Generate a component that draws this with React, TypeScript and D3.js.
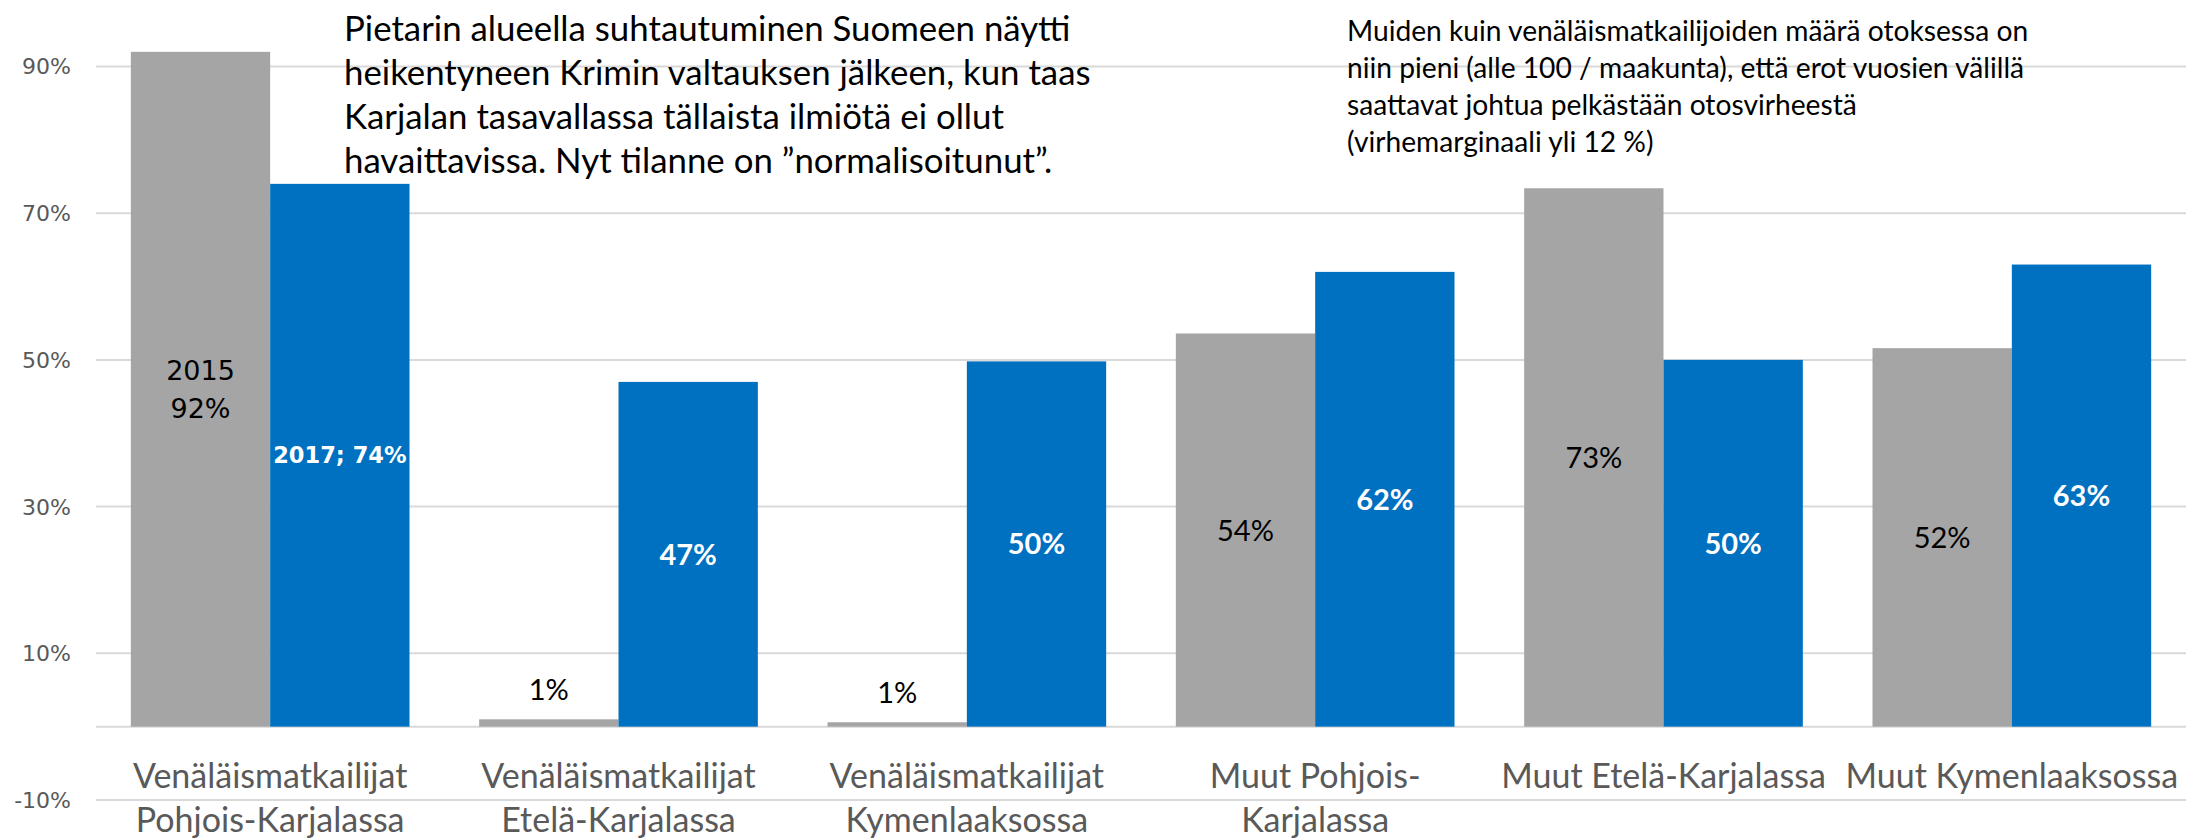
import React from "react";
import * as d3 from "d3";

// categories (x axis), two lines each
const categories = [
  "Venäläismatkailijat Pohjois-Karjalassa",
  "Venäläismatkailijat Etelä-Karjalassa",
  "Venäläismatkailijat Kymenlaaksossa",
  "Muut Pohjois-Karjalassa",
  "Muut Etelä-Karjalassa",
  "Muut Kymenlaaksossa",
];
const categoryLines = [
  ["Venäläismatkailijat", "Pohjois-Karjalassa"],
  ["Venäläismatkailijat", "Etelä-Karjalassa"],
  ["Venäläismatkailijat", "Kymenlaaksossa"],
  ["Muut Pohjois-", "Karjalassa"],
  ["Muut Etelä-Karjalassa"],
  ["Muut Kymenlaaksossa"],
];

const series = ["2015", "2017"];
const values2015 = [92, 1, 0.6, 53.6, 73.4, 51.6];
const values2017 = [74, 47, 49.8, 62, 50, 63];
const labels2015 = [["2015", "92%"], ["1%"], ["1%"], ["54%"], ["73%"], ["52%"]];
const labels2017 = ["2017; 74%", "47%", "50%", "62%", "50%", "63%"];

const yTicks = [-10, 10, 30, 50, 70, 90];

const note1 = [
  "Pietarin alueella suhtautuminen Suomeen näytti",
  "heikentyneen Krimin valtauksen jälkeen, kun taas",
  "Karjalan tasavallassa tällaista ilmiötä ei ollut",
  "havaittavissa. Nyt tilanne on \u201dnormalisoitunut\u201d.",
];
const note2 = [
  "Muiden kuin venäläismatkailijoiden määrä otoksessa on",
  "niin pieni (alle 100 / maakunta), että erot vuosien välillä",
  "saattavat johtua pelkästään otosvirheestä",
  "(virhemarginaali yli 12 %)",
];

const W = 2204;
const H = 838;
const CAL = "Lato, 'Open Sans', sans-serif";
const DV = "'DejaVu Sans', Verdana, sans-serif";

export default function App() {
  const x = d3.scaleBand().domain(categories).range([96, 2186]).paddingInner(0.2).paddingOuter(0.1);
  const xs = d3.scaleBand().domain(series).range([0, x.bandwidth()]);
  const y = d3.scaleLinear().domain([-10, 90]).range([800, 66.5]);

  const colors = { "2015": "#a5a5a5", "2017": "#0070c0" };

  return (
    <svg width={W} height={H} style={{ position: "absolute", left: 0, top: 0, background: "#fff" }}>
      {/* gridlines */}
      {yTicks.map((t) => (
        <line key={t} x1={96} x2={2186} y1={y(t)} y2={y(t)} stroke="#d9d9d9" strokeWidth={2} />
      ))}
      <line x1={96} x2={2186} y1={y(0)} y2={y(0)} stroke="#d9d9d9" strokeWidth={2} />
      {yTicks.map((t) => (
        <text key={"t" + t} x={71} y={y(t)} dy="0.36em" textAnchor="end" fontFamily={DV} fontSize={22} fill="#595959">
          {t}%
        </text>
      ))}

      {/* bars */}
      {categories.map((c, i) => {
        const x0 = x(c)!;
        const v1 = values2015[i];
        const v2 = values2017[i];
        const bx1 = x0 + xs("2015")!;
        const bx2 = x0 + xs("2017")!;
        const bw = xs.bandwidth();
        const small = y(0) - y(v1) < 40;
        const cy1 = small ? y(v1) - 30 : (y(v1) + y(0)) / 2;
        const cy2 = (y(v2) + y(0)) / 2;
        const l1 = labels2015[i];
        return (
          <g key={c}>
            <rect x={bx1} y={y(v1)} width={bw} height={y(0) - y(v1)} fill={colors["2015"]} />
            <rect x={bx2} y={y(v2)} width={bw} height={y(0) - y(v2)} fill={colors["2017"]} />
            {i === 0 ? (
              <text x={bx1 + bw / 2} textAnchor="middle" fontFamily={DV} fontSize={27} fill="#000">
                <tspan x={bx1 + bw / 2} y={cy1 - 19} dy="0.36em">{l1[0]}</tspan>
                <tspan x={bx1 + bw / 2} y={cy1 + 19} dy="0.36em">{l1[1]}</tspan>
              </text>
            ) : (
              <text x={bx1 + bw / 2} y={cy1} dy="0.36em" textAnchor="middle" fontFamily={CAL} fontSize={29} fill="#000">
                {l1[0]}
              </text>
            )}
            <text
              x={bx2 + bw / 2}
              y={cy2}
              dy="0.36em"
              textAnchor="middle"
              fontFamily={i === 0 ? DV : CAL}
              fontSize={i === 0 ? 22.5 : 29}
              fontWeight="bold"
              fill="#fff"
            >
              {labels2017[i]}
            </text>
            {categoryLines[i].map((ln, k) => (
              <text key={k} x={x0 + x.bandwidth() / 2} y={788 + k * 44} textAnchor="middle" fontFamily={CAL} fontSize={34} fill="#595959">
                {ln}
              </text>
            ))}
          </g>
        );
      })}

      {/* annotations */}
      {note1.map((ln, k) => (
        <text key={"n1" + k} x={344} y={28 + k * 44} dy="0.36em" fontFamily={CAL} fontSize={34.8} fill="#000">
          {ln}
        </text>
      ))}
      {note2.map((ln, k) => (
        <text key={"n2" + k} x={1347} y={31 + k * 37} dy="0.36em" fontFamily={CAL} fontSize={28.2} fill="#000">
          {ln}
        </text>
      ))}
    </svg>
  );
}
